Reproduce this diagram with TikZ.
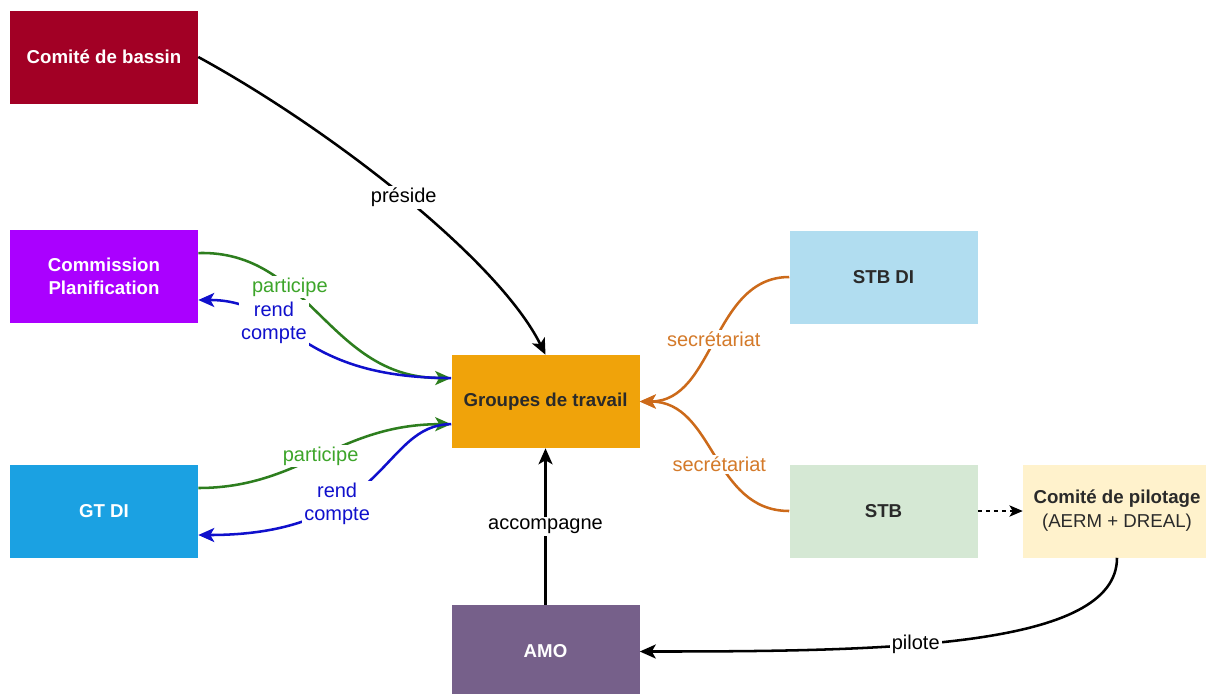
\documentclass[tikz,border=0pt]{standalone}
\usepackage{fontspec}
\setmainfont{Liberation Sans}
\usepackage{tikz}
\usetikzlibrary{arrows.meta}

\definecolor{bassin}{HTML}{A20025}
\definecolor{commission}{HTML}{AA00FF}
\definecolor{gtdi}{HTML}{1BA1E2}
\definecolor{groupes}{HTML}{F0A30A}
\definecolor{amo}{HTML}{76608A}
\definecolor{stbdi}{HTML}{B1DDF0}
\definecolor{stb}{HTML}{D5E8D4}
\definecolor{copil}{HTML}{FFF2CC}
\definecolor{vertline}{HTML}{2D7E1E}
\definecolor{verttext}{HTML}{3DA52A}
\definecolor{bleu}{HTML}{1010CC}
\definecolor{orangeline}{HTML}{CC6A1A}
\definecolor{orangetext}{HTML}{D47A2A}
\definecolor{sombre}{HTML}{2A2A2A}

\tikzset{
  box/.style={minimum width=141pt, minimum height=69.75pt, inner sep=0pt, align=center,
    font=\fontsize{14}{17}\selectfont\bfseries},
  lbl/.style={fill=white, inner sep=1.5pt, align=center, font=\fontsize{15}{17}\selectfont},
  link/.style={line width=1.9pt, -{Stealth[length=12pt,width=10.5pt,inset=3pt]}},
}

\begin{document}
\begin{tikzpicture}[x=0.75pt,y=0.75pt,yscale=-1,xscale=1]
    \useasboundingbox (0,0) rectangle (1206,693);

    % Nodes
    \node[box, fill=bassin, text=white] (bassin) at (104,57) {Comité de bassin};
    \node[box, fill=commission, text=white] (commission) at (104,276.5) {Commission\\Planification};
    \node[box, fill=gtdi, text=white] (gtdi) at (104,511) {GT DI};
    \node[box, fill=groupes, text=sombre] (groupes) at (545.5,401.5) {Groupes de travail};
    \node[box, fill=amo, text=white] (amo) at (545.5,651.5) {AMO};
    \node[box, fill=stbdi, text=sombre] (stbdi) at (883.5,277) {STB DI};
    \node[box, fill=stb, text=sombre] (stb) at (883.5,511) {STB};
    \node[box, fill=copil, text=sombre, font=\fontsize{14}{18}\selectfont\bfseries] (copil) at (1117,511) {Comité de pilotage\\\mdseries(AERM + DREAL)};

    % Curve Lines (yshift is flipped by yscale=-1)
    \draw[link] (bassin.east) .. controls +(132,72) and +(-47,-95) .. (groupes.north)
        node[lbl, pos=0.5] {préside};
    \draw[link, draw=vertline] ([yshift=-17.6pt]commission.east) .. controls +(112,-3) and +(-123,0) .. ([yshift=-17.6pt]groupes.west)
        node[lbl, text=verttext, pos=0.35] {participe};
    \draw[link, draw=bleu] ([yshift=-17.6pt]groupes.west) .. controls +(-160,0) and +(92,0) .. ([yshift=17.6pt]commission.east)
        node[lbl, text=bleu, pos=0.64] {rend\\compte};
    \draw[link, draw=vertline] ([yshift=-17.25pt]gtdi.east) .. controls +(102,0) and +(-113,0) .. ([yshift=17pt]groupes.west)
        node[lbl, text=verttext, pos=0.5] {participe};
    \draw[link, draw=bleu] ([yshift=17pt]groupes.west) .. controls +(-70,0) and +(190,0) .. ([yshift=18pt]gtdi.east)
        node[lbl, text=bleu, pos=0.65] {rend\\compte};
    \draw[link, draw=orangeline] (stbdi.west) .. controls +(-77,0) and +(75,0) .. (groupes.east)
        node[lbl, text=orangetext, pos=0.5] {secrétariat};
    \draw[link, draw=orangeline] (stb.west) .. controls +(-77,0) and +(75,0) .. (groupes.east)
        node[lbl, text=orangetext, pos=0.45] {secrétariat};
    \draw[link] (copil.south) .. controls +(0,90) and +(250,0) .. (amo.east)
        node[lbl, pos=0.6] {pilote};

    % Straight Lines
    \draw[link] (amo.north) -- (groupes.south) node[lbl, midway] {accompagne};
    \draw[line width=1.1pt, dashed, -{Stealth[length=10pt,width=8.5pt,inset=2.5pt]}] (stb.east) -- (copil.west);
\end{tikzpicture}
\end{document}
